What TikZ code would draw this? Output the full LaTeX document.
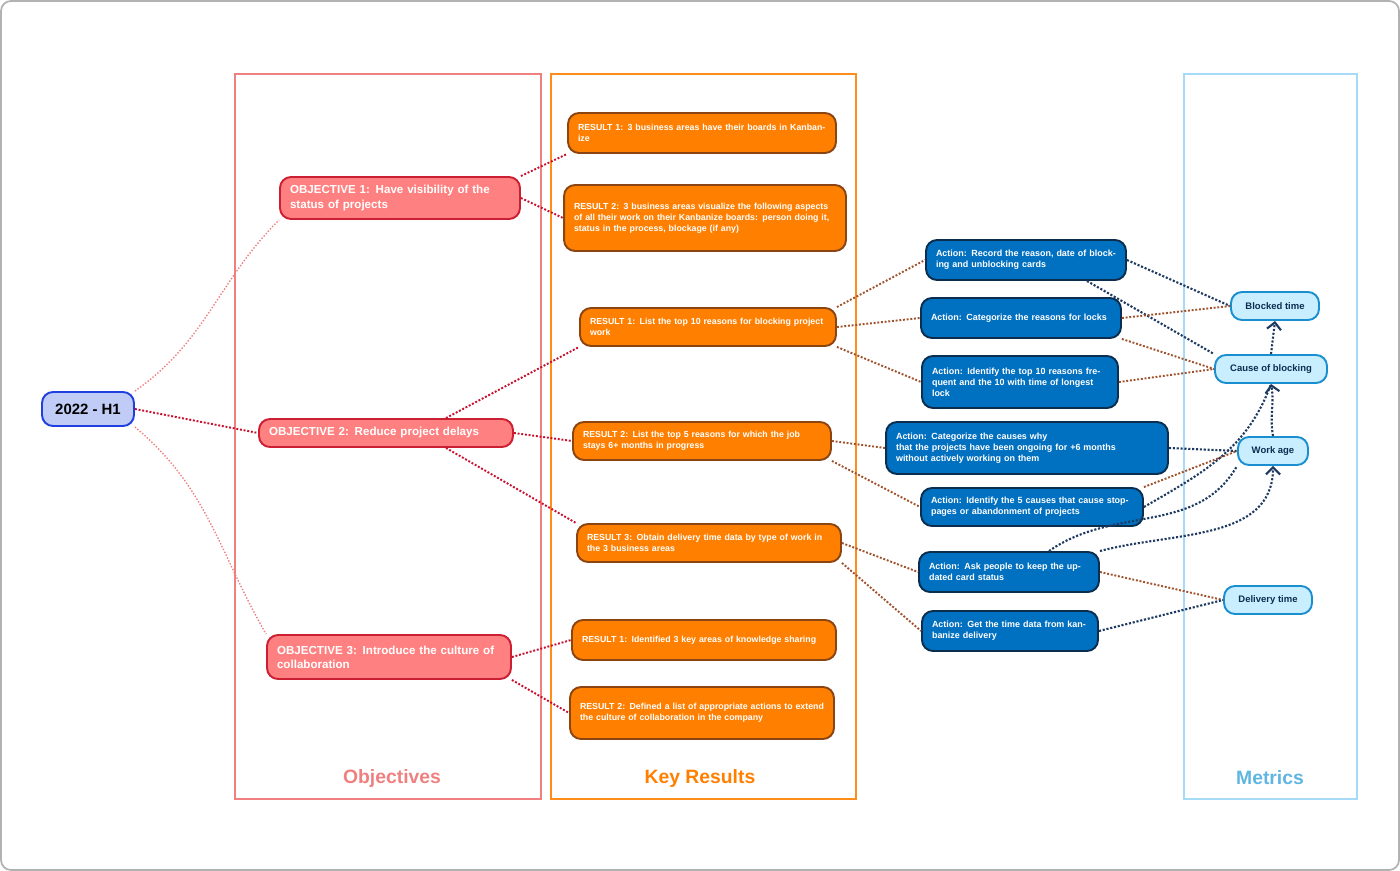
\documentclass[tikz,border=0pt]{standalone}
\usepackage{fontspec}
\setmainfont{Liberation Sans}
\usetikzlibrary{arrows.meta}
\definecolor{objfill}{HTML}{FF8080}
\definecolor{objline}{HTML}{CC1F33}
\definecolor{resfill}{HTML}{FF8000}
\definecolor{resline}{HTML}{8B4513}
\definecolor{actfill}{HTML}{0070C0}
\definecolor{actline}{HTML}{0B2E4F}
\definecolor{metfill}{HTML}{C8EEFF}
\definecolor{metline}{HTML}{1A8FD0}
\definecolor{rootfill}{HTML}{C0CCF5}
\definecolor{rootline}{HTML}{1F3FE0}
\definecolor{linkred}{HTML}{C8102E}
\definecolor{linkpink}{HTML}{F08080}
\definecolor{linkbrown}{HTML}{A0522D}
\definecolor{linkblue}{HTML}{1F3A60}
\begin{document}
\begin{tikzpicture}[x=0.02cm,y=-0.02cm,
  box/.style={rectangle,rounded corners=0.22cm,line width=1.1pt,align=left,inner xsep=0.2cm,font=\bfseries},
  root/.style={box,fill=rootfill,draw=rootline,align=center,minimum width=1.84cm,minimum height=0.68cm,font=\fontsize{8.5}{10}\selectfont\bfseries},
  obj/.style={box,fill=objfill,draw=objline,text=white,font=\fontsize{6.6}{8}\selectfont\bfseries},
  res/.style={box,fill=resfill,draw=resline,text=white,font=\fontsize{5}{6.2}\selectfont\bfseries},
  act/.style={box,fill=actfill,draw=actline,text=white,font=\fontsize{5.1}{6.3}\selectfont\bfseries},
  met/.style={box,fill=metfill,draw=metline,text=actline,align=center,minimum height=0.56cm,font=\fontsize{5.4}{6.5}\selectfont\bfseries},
  column/.style={line width=1.4pt},
  clabel/.style={font=\fontsize{11}{13}\selectfont\bfseries},
  tree/.style={densely dotted,line width=1.1pt,linkred},
  soft/.style={densely dotted,line width=0.8pt,linkpink},
  stage/.style={densely dotted,line width=1.1pt,linkbrown},
  feed/.style={densely dotted,line width=1.2pt,linkblue}]
\useasboundingbox (0,0) rectangle (1400,871);
\draw[gray!60,line width=1pt,rounded corners=0.2cm] (1,1) rectangle (1399,870);

% columns
\draw[column,linkpink] (235,74) rectangle (541,799);
\draw[column,resfill!90!white] (551,74) rectangle (856,799);
\draw[column,metfill!80!metline] (1184,74) rectangle (1357,799);
\node[clabel,text=linkpink] (lobj) at (392,778) {Objectives};
\node[clabel,text=resfill] (lres) at (700,778) {Key Results};
\node[clabel,text=metfill!40!metline] (lmet) at (1270,778) {Metrics};

% root and objectives
\node[root] (h1) at (88,409) {2022 - H1};
\node[obj,minimum width=4.8cm,minimum height=0.84cm,text width=4.4cm] (o1) at (400,198) {OBJECTIVE 1: Have visibility of the status of projects};
\node[obj,minimum width=5.08cm,minimum height=0.56cm,text width=4.68cm] (o2) at (386,433) {OBJECTIVE 2: Reduce project delays};
\node[obj,minimum width=4.88cm,minimum height=0.88cm,text width=4.48cm] (o3) at (389,657) {OBJECTIVE 3: Introduce the culture of collaboration};

% key results
\node[res,minimum width=5.36cm,minimum height=0.8cm,text width=4.96cm] (r1) at (702,133) {RESULT 1: 3 business areas have their boards in Kanbanize};
\node[res,minimum width=5.64cm,minimum height=1.32cm,text width=5.24cm] (r2) at (705,218) {RESULT 2: 3 business areas visualize the following aspects of all their work on their Kanbanize boards: person doing it, status in the process, blockage (if any)};
\node[res,minimum width=5.12cm,minimum height=0.76cm,text width=4.72cm] (r3) at (708,327) {RESULT 1: List the top 10 reasons for blocking project work};
\node[res,minimum width=5.16cm,minimum height=0.76cm,text width=4.76cm] (r4) at (702,441) {RESULT 2: List the top 5 reasons for which the job stays 6+ months in progress};
\node[res,minimum width=5.28cm,minimum height=0.76cm,text width=4.88cm] (r5) at (709,543) {RESULT 3: Obtain delivery time data by type of work in the 3 business areas};
\node[res,minimum width=5.28cm,minimum height=0.8cm,text width=4.88cm] (r6) at (704,640) {RESULT 1: Identified 3 key areas of knowledge sharing};
\node[res,minimum width=5.28cm,minimum height=1.04cm,text width=4.88cm] (r7) at (702,713) {RESULT 2: Defined a list of appropriate actions to extend the culture of collaboration in the company};

% actions
\node[act,minimum width=4.0cm,minimum height=0.8cm,text width=3.6cm] (a1) at (1026,260) {Action: Record the reason, date of blocking and unblocking cards};
\node[act,minimum width=4.0cm,minimum height=0.8cm,text width=3.6cm] (a2) at (1021,318) {Action: Categorize the reasons for locks};
\node[act,minimum width=3.92cm,minimum height=1.04cm,text width=3.52cm] (a3) at (1020,382) {Action: Identify the top 10 reasons frequent and the 10 with time of longest lock};
\node[act,minimum width=5.64cm,minimum height=1.04cm,text width=5.24cm] (a4) at (1027,448) {Action: Categorize the causes why\\that the projects have been ongoing for +6 months\\without actively working on them};
\node[act,minimum width=4.44cm,minimum height=0.76cm,text width=4.04cm] (a5) at (1032,507) {Action: Identify the 5 causes that cause stoppages or abandonment of projects};
\node[act,minimum width=3.6cm,minimum height=0.8cm,text width=3.2cm] (a6) at (1009,572) {Action: Ask people to keep the updated card status};
\node[act,minimum width=3.52cm,minimum height=0.8cm,text width=3.12cm] (a7) at (1010,631) {Action: Get the time data from kanbanize delivery};

% metrics
\node[met,minimum width=1.76cm] (m1) at (1275,306) {Blocked time};
\node[met,minimum width=2.24cm] (m2) at (1271,369) {Cause of blocking};
\node[met,minimum width=1.4cm] (m3) at (1273,451) {Work age};
\node[met,minimum width=1.76cm] (m4) at (1268,600) {Delivery time};

% connectors
\draw[soft] (h1.north east) to[out=35,in=225] (o1.south west);
\draw[tree] (h1.east) -- (o2.west);
\draw[soft] (h1.south east) to[out=-40,in=120] (o3.north west);
\draw[tree] (o1.north east) -- (r1.south west);
\draw[tree] (o1.east) -- (r2.west);
\draw[tree] (o2.north) ++(60,0) -- (r3.south west);
\draw[tree] (o2.east) -- (r4.west);
\draw[tree] (o2.south) ++(60,0) -- (r5.north west);
\draw[tree] (o3.east) -- (r6.west);
\draw[tree] (o3.south east) -- (r7.west);
\draw[stage] (r3.north east) -- (a1.west);
\draw[stage] (r3.east) -- (a2.west);
\draw[stage] (r3.south east) -- (a3.west);
\draw[stage] (r4.east) -- (a4.west);
\draw[stage] (r4.south east) -- (a5.west);
\draw[stage] (r5.east) -- (a6.west);
\draw[stage] (r5.south east) -- (a7.west);
\draw[feed] (a1.east) -- (m1.west);
\draw[feed] (a1.south east) ++(-40,0) -- (m2.north west);
\draw[stage] (a2.east) -- (m1.west);
\draw[stage] (a2.south east) -- (m2.west);
\draw[stage] (a3.east) -- (m2.west);
\draw[feed] (a4.east) -- (m3.west);
\draw[stage] (a5.north east) -- (m3.west);
\draw[feed] (a5.east) to[out=30,in=-110] (m2.south);
\draw[feed] (a6.north) ++(40,0) to[out=35,in=-120] (m3.south west);
\draw[feed,-{Straight Barb[length=4pt]}] (a6.north east) to[out=15,in=-90] (m3.south);
\draw[stage] (a6.east) -- (m4.west);
\draw[feed] (a7.east) -- (m4.west);
\draw[feed,-{Straight Barb[length=4pt]}] (m2.north) -- (m1.south);
\draw[feed,-{Straight Barb[length=4pt]}] (m3.north) to[out=100,in=-80] (m2.south);
\end{tikzpicture}
\end{document}
